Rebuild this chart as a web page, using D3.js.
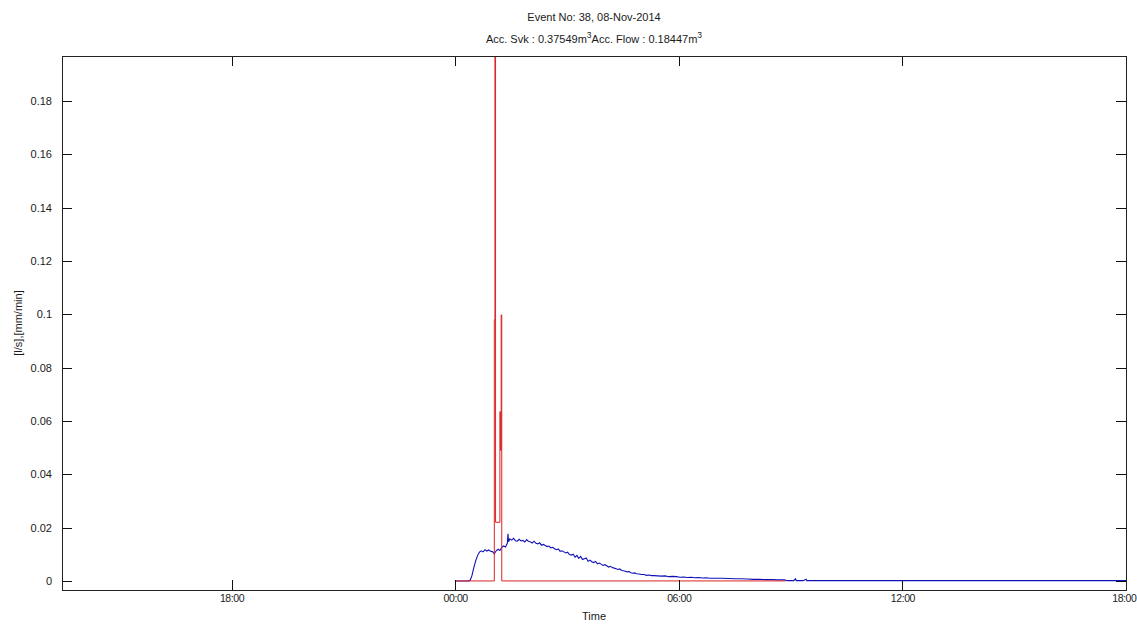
<!DOCTYPE html>
<html>
<head>
<meta charset="utf-8">
<script src="https://cdn.jsdelivr.net/npm/d3@7"></script>
<style>
  html, body { margin: 0; padding: 0; background: #fff; }
  svg { display: block; }
  text { font-family: "Liberation Sans", Arial, sans-serif; fill: #1a1a1a; }
</style>
</head>
<body>
<svg id="chart" width="1137" height="624"></svg>
<script>
// ---------- data ----------
const titleLine1 = "Event No: 38, 08-Nov-2014";
const svkValue = "0.37549";
const flowValue = "0.18447";
const yLabel = "[l/s],[mm/min]";
const xLabel = "Time";

// y ticks
const yTicks = [0, 0.02, 0.04, 0.06, 0.08, 0.1, 0.12, 0.14, 0.16, 0.18];
const yTickLabels = ["0", "0.02", "0.04", "0.06", "0.08", "0.1", "0.12", "0.14", "0.16", "0.18"];
const yDomain = [-0.0034, 0.1969];

// x ticks: minutes relative to 08-Nov-2014 00:00
const xTickMinutes = [-360, 0, 360, 720, 1080];
const xTickLabels = ["18:00", "00:00", "06:00", "12:00", "18:00"];
const xDomainMinutes = [-633, 1080];

// rain intensity (red, stairs): [minute after 00:00, value]
const rainSeries = [
  [0, 0], [63, 0.098], [64, 0.1975], [65, 0.022], [72, 0.0635], [73, 0.049], [74, 0.0998], [75, 0], [532, 0]
];

// flow (blue): [minute after 00:00, value]
const flowSeries = [
  [0, 0], [20, 0], [24, 0.0002], [27, 0.002], [30, 0.005], [33, 0.0075], [36, 0.0095], [39, 0.0108],
  [42, 0.0113], [45, 0.0109], [48, 0.0117], [51, 0.0112], [54, 0.0116], [57, 0.0111], [60, 0.0110],
  [63, 0.0102], [66, 0.0113], [69, 0.0119], [72, 0.0114], [75, 0.0126], [78, 0.0131], [81, 0.0127],
  [84, 0.0141], [85, 0.0177], [86, 0.0147],
  [88, 0.0158], [91, 0.0153], [94, 0.0160], [97, 0.0151], [100, 0.0149], [103, 0.0156], [106, 0.0150],
  [109, 0.0152], [112, 0.0146], [115, 0.0155], [118, 0.0148], [121, 0.0147], [124, 0.0142], [127, 0.0149],
  [130, 0.0141], [133, 0.0139], [136, 0.0143], [139, 0.0134], [142, 0.0137], [145, 0.0133], [148, 0.0129],
  [151, 0.0131], [154, 0.0124], [157, 0.0126], [160, 0.0121], [163, 0.0117], [166, 0.0120], [169, 0.0111],
  [172, 0.0113], [175, 0.0109], [178, 0.0105], [181, 0.0108], [184, 0.0099], [187, 0.0097], [190, 0.0100],
  [193, 0.0089], [196, 0.0096], [199, 0.0085], [202, 0.0092], [205, 0.0080], [208, 0.0083], [211, 0.0086],
  [214, 0.0074], [217, 0.0078], [220, 0.0072], [223, 0.0069], [226, 0.0073], [229, 0.0064], [232, 0.0067],
  [235, 0.0063], [238, 0.0058], [241, 0.0061], [244, 0.0057], [247, 0.0052], [250, 0.0055], [253, 0.0050],
  [256, 0.0048], [259, 0.0046], [262, 0.0043], [265, 0.0045], [268, 0.0039], [271, 0.0038], [274, 0.0036],
  [277, 0.0034], [280, 0.0035], [283, 0.0031], [286, 0.0029], [289, 0.0030], [292, 0.0027], [296, 0.0026],
  [300, 0.0024], [304, 0.0024], [308, 0.0021], [312, 0.0022], [316, 0.0020], [320, 0.0020], [326, 0.0019],
  [332, 0.0018], [338, 0.0019], [344, 0.0016], [350, 0.0017], [356, 0.0016], [362, 0.0014], [368, 0.0015],
  [374, 0.0013], [380, 0.0014], [386, 0.0012], [392, 0.0013], [398, 0.0011], [404, 0.0012], [410, 0.0010],
  [420, 0.0010], [430, 0.0010], [440, 0.0009], [450, 0.0008], [460, 0.0008], [470, 0.0007], [480, 0.0006],
  [490, 0.0006], [500, 0.0005], [510, 0.0005], [520, 0.0004], [530, 0.0004], [535, 0.0001], [545, 0.0001],
  [548, 0.0008], [549, 0.0001], [560, 0.0001], [565, 0.0006], [566, 0.0001], [600, 0.0001], [1080, 0.0001]
];

// ---------- layout ----------
const margin = { left: 62, top: 56, right: 1126, bottom: 590 };
const base = new Date(2014, 10, 8, 0, 0, 0);
const toDate = m => new Date(base.getTime() + m * 60000);

const svg = d3.select("#chart");
const x = d3.scaleTime()
  .domain(xDomainMinutes.map(toDate))
  .range([margin.left, margin.right]);
const y = d3.scaleLinear()
  .domain(yDomain)
  .range([margin.bottom, margin.top]);

const tickLen = 10;
const fontSize = 11;

svg.append("clipPath").attr("id", "plotclip")
  .append("rect")
  .attr("x", margin.left).attr("y", margin.top)
  .attr("width", margin.right - margin.left).attr("height", margin.bottom - margin.top);

// ---------- series ----------
const plot = svg.append("g").attr("clip-path", "url(#plotclip)");

plot.append("path")
  .datum(flowSeries)
  .attr("fill", "none")
  .attr("stroke", "#1010b8")
  .attr("stroke-width", 1.1)
  .attr("d", d3.line().x(d => x(toDate(d[0]))).y(d => y(d[1])));

plot.append("path")
  .datum(rainSeries)
  .attr("fill", "none")
  .attr("stroke", "#dc2222")
  .attr("stroke-width", 1)
  .attr("d", d3.line().curve(d3.curveStepAfter).x(d => x(toDate(d[0]))).y(d => y(d[1])));

// ---------- axes (MATLAB-style box with inward ticks) ----------
const xTickDates = xTickMinutes.map(toDate);
const xFmt = d => xTickLabels[xTickDates.findIndex(t => t.getTime() === d.getTime())];
const yFmt = d => yTickLabels[yTicks.indexOf(d)];

const axisStyle = (g, fs) => {
  g.select(".domain").remove();
  g.selectAll(".tick line").attr("stroke", "#111").attr("shape-rendering", "crispEdges");
  g.selectAll(".tick text")
    .attr("font-family", '"Liberation Sans", Arial, sans-serif')
    .attr("font-size", fs)
    .attr("fill", "#1a1a1a");
};

// bottom
const gx = svg.append("g")
  .attr("transform", `translate(0,${margin.bottom})`)
  .call(d3.axisBottom(x).tickValues(xTickDates).tickFormat(xFmt).tickSizeInner(-tickLen).tickSizeOuter(0).tickPadding(5))
  .call(g => axisStyle(g, 10.5));
gx.selectAll(".tick text").attr("letter-spacing", "-0.4");
// keep the last label inside the picture (reference shows it touching the right edge)
gx.selectAll(".tick text").filter((d, i, n) => i === n.length - 1)
  .attr("text-anchor", "end").attr("x", 1136 - margin.right);
// top
svg.append("g")
  .attr("transform", `translate(0,${margin.top})`)
  .call(d3.axisTop(x).tickValues(xTickDates).tickFormat("").tickSizeInner(-tickLen).tickSizeOuter(0))
  .call(g => axisStyle(g, fontSize));
// left
svg.append("g")
  .attr("transform", `translate(${margin.left},0)`)
  .call(d3.axisLeft(y).tickValues(yTicks).tickFormat(yFmt).tickSizeInner(-tickLen).tickSizeOuter(0).tickPadding(10))
  .call(g => axisStyle(g, fontSize));
// right
svg.append("g")
  .attr("transform", `translate(${margin.right},0)`)
  .call(d3.axisRight(y).tickValues(yTicks).tickFormat("").tickSizeInner(-tickLen).tickSizeOuter(0))
  .call(g => axisStyle(g, fontSize));

// box
svg.append("rect")
  .attr("x", margin.left + 0.5).attr("y", margin.top + 0.5)
  .attr("width", margin.right - margin.left).attr("height", margin.bottom - margin.top)
  .attr("fill", "none").attr("stroke", "#222").attr("stroke-width", 1)
  .attr("shape-rendering", "crispEdges");

// ---------- titles and labels ----------
const cx = (margin.left + margin.right) / 2;
svg.append("text")
  .attr("x", cx).attr("y", 21)
  .attr("text-anchor", "middle").attr("font-size", fontSize)
  .text(titleLine1);

const t2 = svg.append("text")
  .attr("x", cx).attr("y", 43)
  .attr("text-anchor", "middle").attr("font-size", fontSize);
t2.append("tspan").text("Acc. Svk : " + svkValue + "m");
t2.append("tspan").attr("dy", -5).attr("font-size", 8.5).text("3");
t2.append("tspan").attr("dy", 5).text("Acc. Flow : " + flowValue + "m");
t2.append("tspan").attr("dy", -5).attr("font-size", 8.5).text("3");

svg.append("text")
  .attr("x", cx).attr("y", 620)
  .attr("text-anchor", "middle").attr("font-size", fontSize)
  .text(xLabel);

svg.append("text")
  .attr("transform", `translate(22,${(margin.top + margin.bottom) / 2}) rotate(-90)`)
  .attr("text-anchor", "middle").attr("font-size", fontSize)
  .text(yLabel);
</script>
</body>
</html>
